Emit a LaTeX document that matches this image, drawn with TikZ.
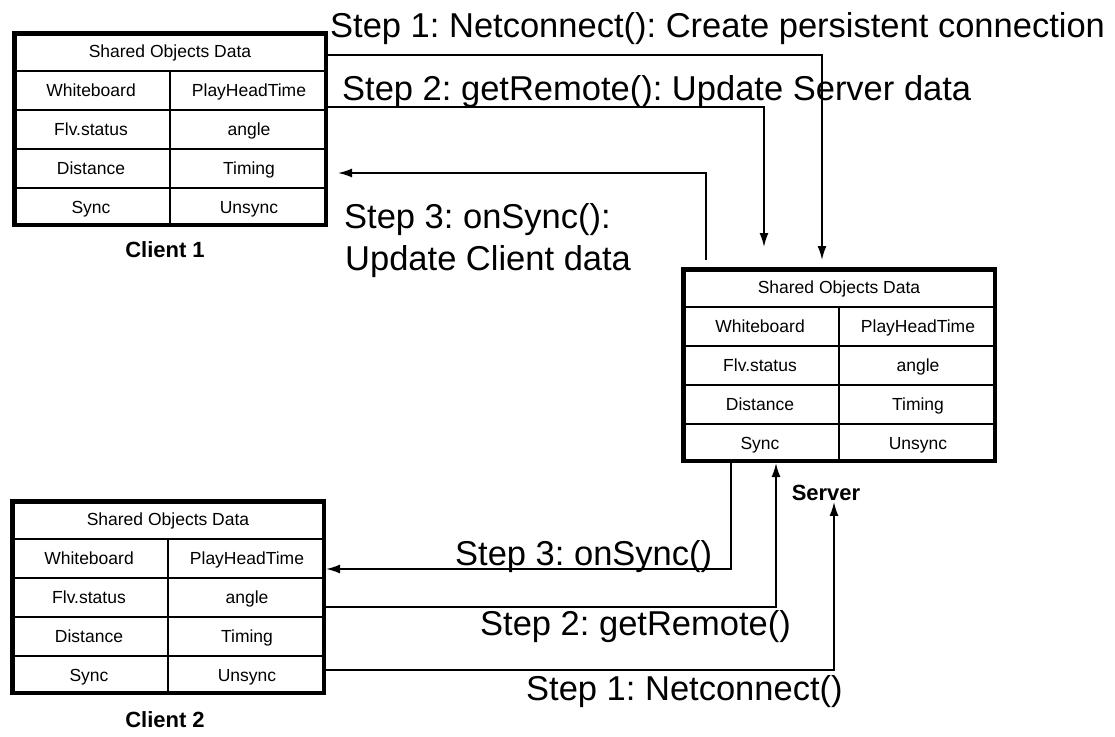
\documentclass[tikz,border=0pt]{standalone}
\usepackage{fontspec}
\setmainfont{Liberation Sans}
\usetikzlibrary{arrows.meta}
\frenchspacing

\tikzset{
  tablebox/.style={draw, line width=4.5pt, minimum width=311.5pt, minimum height=191.5pt, inner sep=0pt},
  cellrule/.style={line width=1.3pt},
  celltext/.style={font=\fontsize{17.5}{20}\selectfont, inner sep=0pt, anchor=base},
  steplabel/.style={font=\fontsize{34.5}{36}\selectfont, inner sep=0pt, anchor=base west},
  rolelabel/.style={font=\bfseries\fontsize{22}{24}\selectfont, inner sep=0pt, anchor=base},
  flow/.style={line width=1.8pt, -{Latex[length=14pt,width=9pt]}},
}

% Shared-object table: #1 name, #2/#3 top-left outer corner
\newcommand{\sotable}[3]{%
  \begin{scope}[shift={(#2,#3)}]
    \node[tablebox] (#1) at (158,98) {};
    \foreach \r in {40,79,118,157} \draw[cellrule] (2,\r) -- (314,\r);
    \draw[cellrule] (158,40) -- (158,194);
    \node[celltext] (#1-head) at (158,26) {Shared Objects Data};
    \node[celltext] (#1-a1) at (79,65.5) {Whiteboard};
    \node[celltext] (#1-b1) at (237,65.5) {PlayHeadTime};
    \node[celltext] (#1-a2) at (79,104.5) {Flv.status};
    \node[celltext] (#1-b2) at (237,104.5) {angle};
    \node[celltext] (#1-a3) at (79,143.5) {Distance};
    \node[celltext] (#1-b3) at (237,143.5) {Timing};
    \node[celltext] (#1-a4) at (79,182) {Sync};
    \node[celltext] (#1-b4) at (237,182) {Unsync};
  \end{scope}}

\begin{document}
\begin{tikzpicture}[x=1pt,y=-1pt]
  \fill[white] (0,0) rectangle (1115,736);
  \useasboundingbox (0,0) rectangle (1115,736);

  % tables
  \sotable{c1}{12}{31}
  \sotable{srv}{681}{267}
  \sotable{c2}{10}{499}

  % role captions
  \node[rolelabel] (c1lbl) at (165,257.5) {Client 1};
  \node[rolelabel] (c2lbl) at (165,727.5) {Client 2};
  \node[rolelabel] (srvlbl) at (826,500.5) {Server};

  % step captions, upper exchange
  \node[steplabel] (u1) at (330,37) {Step 1: Netconnect(): Create persistent connection};
  \node[steplabel] (u2) at (342,100) {Step 2: getRemote(): Update Server data};
  \node[steplabel] (u3a) at (344,228) {Step 3: onSync():};
  \node[steplabel] (u3b) at (345,270) {Update Client data};

  % step captions, lower exchange
  \node[steplabel] (d3) at (455,565) {Step 3: onSync()};
  \node[steplabel] (d2) at (480,635) {Step 2: getRemote()};
  \node[steplabel] (d1) at (526,700) {Step 1: Netconnect()};

  % Client 1 <-> Server
  \draw[flow, shorten >=7pt] ([yshift=-24pt]c1.north east) -| ([xshift=-17pt]srv.north);
  \draw[flow, shorten >=20pt] ([yshift=-76pt]c1.north east) -| ([xshift=-75pt]srv.north);
  \draw[flow, shorten <=7pt, shorten >=10pt] ([xshift=-133pt]srv.north) |- ([yshift=-142pt]c1.north east);

  % Client 2 <-> Server
  \draw[flow] ([xshift=-108pt]srv.south) |- ([yshift=-70pt]c2.north east);
  \draw[flow] ([yshift=-108pt]c2.north east) -| ([xshift=-63pt]srv.south);
  \draw[flow, shorten >=1pt] ([yshift=-171pt]c2.north east) -| ([xshift=8pt]srvlbl.south);
\end{tikzpicture}
\end{document}
